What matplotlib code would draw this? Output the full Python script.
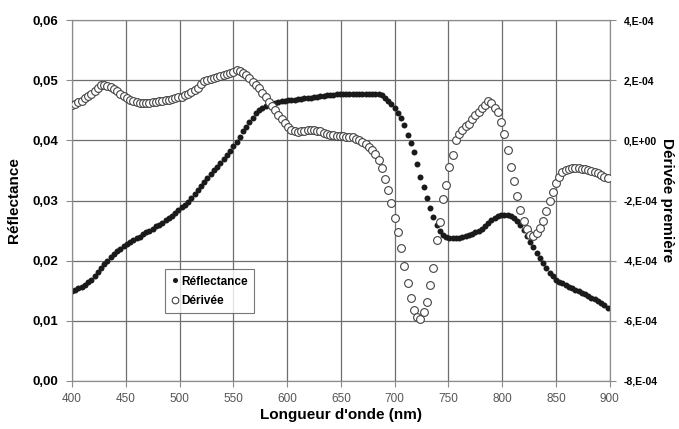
import matplotlib
matplotlib.use("Agg")
import matplotlib.pyplot as plt
import numpy as np
from matplotlib.ticker import FuncFormatter

plt.rcParams['font.family'] = ['Liberation Sans', 'DejaVu Sans']

# wavelengths every 3 nm, 400 -> 898
longueur = np.arange(400, 899, 3)

reflectance = [
    0.0149, 0.0151, 0.0154, 0.0157, 0.0160, 0.0164, 0.0168, 0.0174, 0.0181, 0.0188,  # 400
    0.0194, 0.0200, 0.0206, 0.0211, 0.0216, 0.0220, 0.0224, 0.0227, 0.0231, 0.0234,  # 430
    0.0237, 0.0240, 0.0244, 0.0247, 0.0250, 0.0253, 0.0257, 0.0260, 0.0263, 0.0267,  # 460
    0.0271, 0.0275, 0.0279, 0.0284, 0.0289, 0.0293, 0.0298, 0.0304, 0.0311, 0.0318,  # 490
    0.0325, 0.0331, 0.0337, 0.0344, 0.0350, 0.0356, 0.0363, 0.0369, 0.0375, 0.0382,  # 520
    0.0390, 0.0398, 0.0406, 0.0415, 0.0423, 0.0431, 0.0438, 0.0445, 0.0450, 0.0454,  # 550
    0.0457, 0.0459, 0.0461, 0.0463, 0.0464, 0.0465, 0.0466, 0.0467, 0.0467, 0.0468,  # 580
    0.0469, 0.0469, 0.0470, 0.0471, 0.0471, 0.0472, 0.0473, 0.0474, 0.0474, 0.0475,  # 610
    0.0476, 0.0476, 0.0477, 0.0477, 0.0477, 0.0477, 0.0478, 0.0478, 0.0478, 0.0478,  # 640
    0.0478, 0.0478, 0.0478, 0.0478, 0.0478, 0.0477, 0.0475, 0.0471, 0.0466, 0.0460,  # 670
    0.0454, 0.0445, 0.0437, 0.0425, 0.0409, 0.0396, 0.0381, 0.0361, 0.0340, 0.0323,  # 700
    0.0304, 0.0288, 0.0273, 0.0259, 0.0249, 0.0243, 0.0239, 0.0238, 0.0237, 0.0237,  # 730
    0.0238, 0.0239, 0.0241, 0.0243, 0.0245, 0.0247, 0.0250, 0.0253, 0.0257, 0.0262,  # 760
    0.0267, 0.0271, 0.0274, 0.0276, 0.0276, 0.0276, 0.0274, 0.0271, 0.0266, 0.0259,  # 790
    0.0251, 0.0241, 0.0231, 0.0222, 0.0213, 0.0204, 0.0196, 0.0188, 0.0180, 0.0174,  # 820
    0.0168, 0.0165, 0.0163, 0.0160, 0.0157, 0.0154, 0.0152, 0.0149, 0.0146, 0.0144,  # 850
    0.0141, 0.0138, 0.0136, 0.0133, 0.0130, 0.0126, 0.0122,                          # 880
]

# first derivative, in units of 1E-04
derivee_e4 = [
    1.17, 1.21, 1.27, 1.32, 1.40, 1.48, 1.56, 1.66, 1.76, 1.84,  # 400
    1.85, 1.82, 1.77, 1.71, 1.64, 1.56, 1.48, 1.41, 1.35, 1.30,  # 430
    1.27, 1.25, 1.23, 1.23, 1.25, 1.27, 1.28, 1.30, 1.31, 1.33,  # 460
    1.35, 1.37, 1.40, 1.43, 1.46, 1.51, 1.56, 1.61, 1.67, 1.76,  # 490
    1.88, 1.96, 2.01, 2.05, 2.09, 2.12, 2.15, 2.18, 2.21, 2.24,  # 520
    2.29, 2.34, 2.30, 2.24, 2.17, 2.06, 1.95, 1.84, 1.73, 1.58,  # 550
    1.43, 1.29, 1.16, 1.00, 0.86, 0.71, 0.57, 0.44, 0.35, 0.30,  # 580
    0.29, 0.31, 0.33, 0.34, 0.35, 0.34, 0.33, 0.30, 0.26, 0.22,  # 610
    0.19, 0.17, 0.16, 0.15, 0.14, 0.13, 0.12, 0.10, 0.05, 0.00,  # 640
    -0.06, -0.13, -0.21, -0.31, -0.44, -0.64, -0.93, -1.27, -1.64, -2.07,  # 670
    -2.57, -3.05, -3.58, -4.18, -4.73, -5.25, -5.65, -5.88, -5.93, -5.70,  # 700
    -5.37, -4.82, -4.23, -3.32, -2.70, -1.95, -1.47, -0.90, -0.49, 0.02,  # 730
    0.23, 0.36, 0.48, 0.56, 0.70, 0.86, 0.93, 1.07, 1.19, 1.30,  # 760
    1.25, 1.09, 0.95, 0.62, 0.23, -0.32, -0.88, -1.34, -1.86, -2.32,  # 790
    -2.68, -2.95, -3.15, -3.17, -3.08, -2.92, -2.69, -2.35, -2.01, -1.72,  # 820
    -1.43, -1.20, -1.06, -0.98, -0.94, -0.93, -0.93, -0.93, -0.94, -0.96,  # 850
    -0.98, -1.02, -1.06, -1.10, -1.15, -1.20, -1.26,  # 880
]
derivee = np.array(derivee_e4) * 1e-4

x_ticks = [400, 450, 500, 550, 600, 650, 700, 750, 800, 850, 900]
y_ticks = [0.00, 0.01, 0.02, 0.03, 0.04, 0.05, 0.06]
y2_ticks = [-8e-4, -6e-4, -4e-4, -2e-4, 0.0, 2e-4, 4e-4]
y2_labels = ['-8,E-04', '-6,E-04', '-4,E-04', '-2,E-04', '0,E+00', '2,E-04', '4,E-04']

fig = plt.figure(figsize=(6.79, 4.29), dpi=100)
ax = fig.add_axes([0.106, 0.112, 0.792, 0.841])
ax2 = ax.twinx()

grid_col = '#6e6e6e'
ax.set_xlim(400, 900)
ax.set_ylim(0, 0.06)
ax.set_xticks(x_ticks)
ax.set_yticks(y_ticks)
ax.grid(True, color=grid_col, linewidth=0.9)
ax.set_axisbelow(True)
ax.yaxis.set_major_formatter(FuncFormatter(lambda v, p: f"{v:.2f}".replace('.', ',')))

l1, = ax.plot(longueur, reflectance, 'o', color='#1a1a1a', markersize=4.3,
              markeredgewidth=0, label='Réflectance', zorder=3)

ax2.set_ylim(-8e-4, 4e-4)
ax2.set_yticks(y2_ticks)
ax2.set_yticklabels(y2_labels)
l2, = ax2.plot(longueur, derivee, 'o', markerfacecolor='white', markeredgecolor='#444444',
               markersize=5.6, markeredgewidth=0.8, label='Dérivée', zorder=3)

for a in (ax, ax2):
    for s in a.spines.values():
        s.set_color('#8c8c8c')
    a.tick_params(color='#8c8c8c', length=4, width=0.8)

ax.tick_params(axis='x', labelsize=8.5, labelcolor='#555555', pad=5)
ax.tick_params(axis='y', labelsize=9.5, pad=6)
for t in ax.get_yticklabels():
    t.set_fontweight('bold')
ax2.tick_params(axis='y', labelsize=7.5, pad=6)
for t in ax2.get_yticklabels():
    t.set_fontweight('bold')

ax.set_xlabel("Longueur d'onde (nm)", fontsize=11, fontweight='bold', labelpad=2)
ax.set_ylabel('Réflectance', fontsize=11, fontweight='bold', labelpad=8)
ax2.set_ylabel('Dérivée première', fontsize=11, fontweight='bold', rotation=270, labelpad=12)

leg = ax.legend(handles=[l1, l2], loc='upper left', bbox_to_anchor=(0.173, 0.31),
                prop={'size': 8.5, 'weight': 'bold'}, frameon=True, fancybox=False,
                handlelength=0.6, handletextpad=0.2, borderpad=0.55, labelspacing=0.6,
                markerscale=0.85, borderaxespad=0)
leg.get_frame().set_edgecolor('#555555')
leg.get_frame().set_linewidth(0.8)
leg.set_zorder(5)

fig.savefig('out.png', dpi=100)
